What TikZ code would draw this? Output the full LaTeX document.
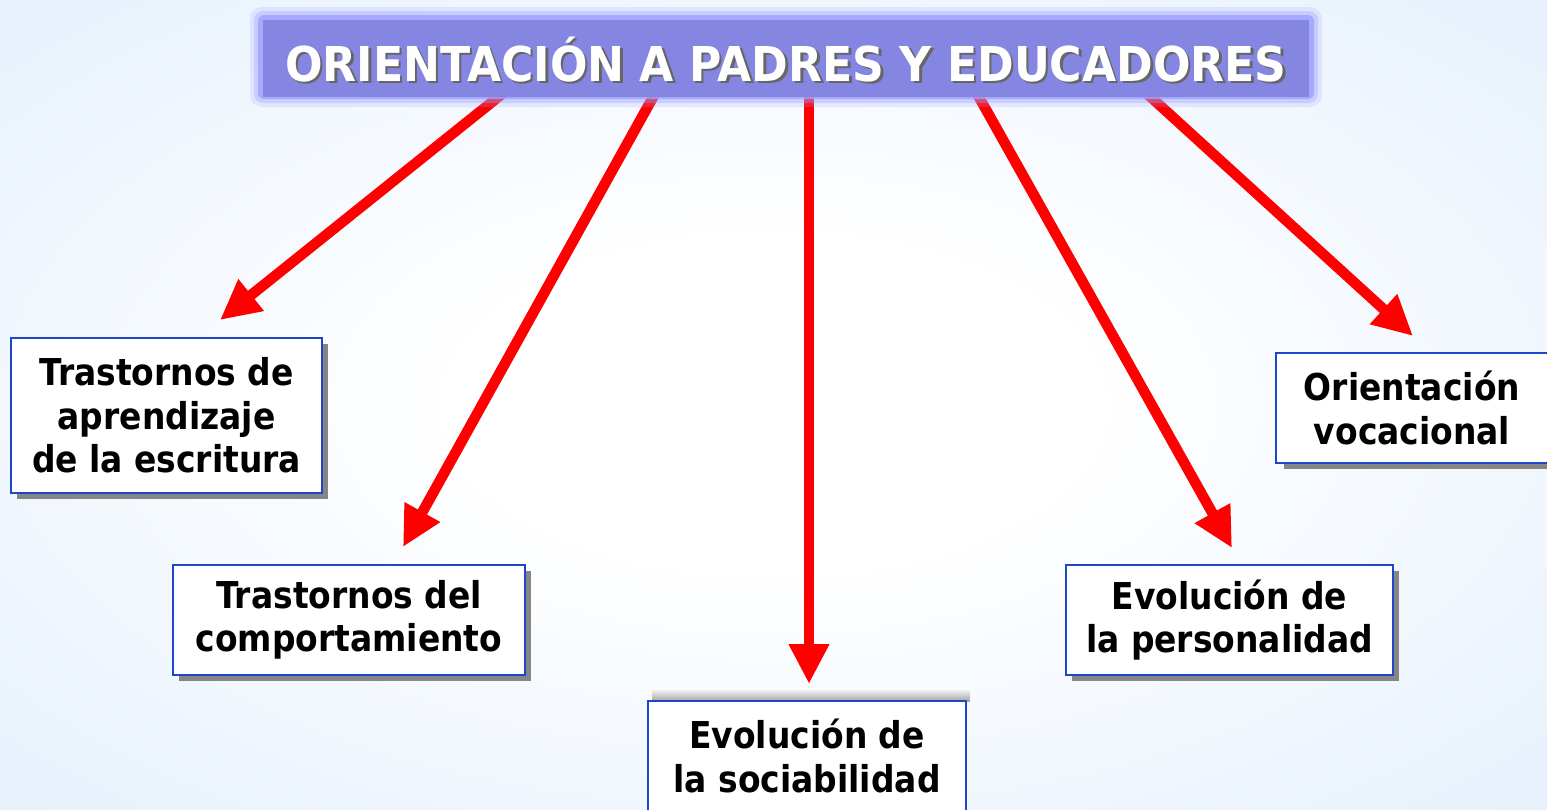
\documentclass[tikz,border=0pt]{standalone}
\usepackage{fontspec}
\usetikzlibrary{arrows.meta,calc}
\newfontfamily\boxfont{DejaVu Sans}[FakeStretch=0.89]
\newfontfamily\titlefont{DejaVu Sans}[FakeStretch=0.92]
\definecolor{bgb}{RGB}{224,237,251}
\definecolor{bgc}{RGB}{214,231,249}
\definecolor{boxline}{RGB}{30,70,205}
\definecolor{titlefill}{RGB}{133,134,226}
\definecolor{titleglow}{RGB}{158,162,255}
\definecolor{arrowred}{RGB}{255,0,0}
\pgfdeclareradialshading{bgshade}{\pgfpoint{0bp}{0bp}}{color(0bp)=(white); color(10bp)=(white); color(42bp)=(bgb); color(72bp)=(bgc)}
\tikzset{
  topic/.style={draw=boxline, line width=1.8pt, fill=white, align=center, inner sep=0pt,
    font=\boxfont\bfseries\fontsize{37}{43.5}\selectfont, text=black},
  shadowbox/.style={fill=gray!95, draw=none},
  redarrow/.style={draw=arrowred, line width=10.5pt, -{Triangle[width=38pt,length=40pt]}, arrowred},
}
\begin{document}
\begin{tikzpicture}[x=1pt,y=-1pt]
\useasboundingbox (0,0) rectangle (1547,809);
\shade[shading=bgshade] (0,0) rectangle (1547,809);

% arrows (start hidden under the title)
\coordinate (s1) at (507,90);  \coordinate (t1) at (220,320);
\coordinate (s2) at (657,90);  \coordinate (t2) at (403,547);
\coordinate (s3) at (809,90);  \coordinate (t3) at (809,684);
\coordinate (s4) at (975,90);  \coordinate (t4) at (1232,548);
\coordinate (s5) at (1143,90); \coordinate (t5) at (1413,336);
\draw[redarrow] (s1) -- (t1);
\draw[redarrow] (s2) -- (t2);
\draw[redarrow] (s3) -- (t3);
\draw[redarrow] (s4) -- (t4);
\draw[redarrow] (s5) -- (t5);

% title with glow
\fill[titleglow, opacity=0.2, rounded corners=12pt] (250,7) rectangle (1322,107);
\fill[titleglow, opacity=0.35, rounded corners=9pt] (254,11) rectangle (1318,103);
\fill[titleglow, opacity=0.8, rounded corners=6pt] (258,15) rectangle (1314,99);
\node[fill=titlefill, minimum width=1046pt, minimum height=77pt, inner sep=0pt] (title) at (786,58) {};
\node[text=gray!80!black, font=\titlefont\bfseries\fontsize{48}{50}\selectfont] at ($(title)+(2.5,4)$) {ORIENTACIÓN A PADRES Y EDUCADORES};
\node[text=white, font=\titlefont\bfseries\fontsize{48}{50}\selectfont] (titletext) at ($(title)+(0,2)$) {ORIENTACIÓN A PADRES Y EDUCADORES};

% box shadows
\fill[shadowbox] (17,344) rectangle (328,499);
\fill[shadowbox] (179,571) rectangle (531,681);
\fill[shadowbox] (1072,571) rectangle (1399,681);
\fill[shadowbox] (1284,359) rectangle (1560,469);
\shade[top color=white, bottom color=gray!70] (652,688) rectangle (970,701);

% boxes
\node[topic, minimum width=311pt, minimum height=155pt] (b1) at (166.5,415.5)
  {Trastornos de\\aprendizaje\\de la escritura};
\node[topic, minimum width=352pt, minimum height=110pt] (b2) at (349,620)
  {Trastornos del\\comportamiento};
\node[topic, minimum width=318pt, minimum height=110pt] (b3) at (807,756)
  {Evolución de\\la sociabilidad};
\node[topic, minimum width=327pt, minimum height=110pt] (b4) at (1229.5,620)
  {Evolución de\\la personalidad};
\node[topic, minimum width=272pt, minimum height=110pt] (b5) at (1412,408)
  {Orientación\\vocacional};
\end{tikzpicture}
\end{document}
